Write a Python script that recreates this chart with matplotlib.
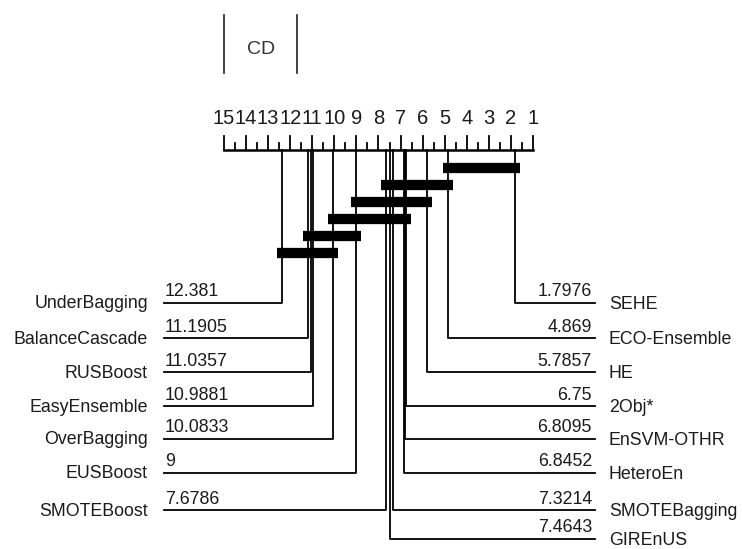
import matplotlib.pyplot as plt
import numpy as np

plt.rcParams['font.family'] = ['Liberation Sans', 'DejaVu Sans']

# average ranks (lower is better)
left_names = ["UnderBagging", "BalanceCascade", "RUSBoost", "EasyEnsemble",
              "OverBagging", "EUSBoost", "SMOTEBoost"]
left_ranks = [12.381, 11.1905, 11.0357, 10.9881, 10.0833, 9.0, 7.6786]
right_names = ["SEHE", "ECO-Ensemble", "HE", "2Obj*", "EnSVM-OTHR",
               "HeteroEn", "SMOTEBagging", "GIREnUS"]
right_ranks = [1.7976, 4.869, 5.7857, 6.75, 6.8095, 6.8452, 7.3214, 7.4643]
# groups of methods not significantly different (lo rank, hi rank)
cliques = [(1.7976, 4.869), (4.869, 7.6786), (5.7857, 9.0),
           (6.75, 10.0833), (9.0, 11.1905), (10.0833, 12.381)]
cd = 3.32
n_methods = 15

# layout: x axis in rank units, y axis in pixels from top
STEP = 22.07          # pixels per rank
X0 = 224              # pixel of the rank 15 end


def rk(p):
    return n_methods - (p - X0) / STEP


fig = plt.figure(figsize=(7.42, 5.49), dpi=100)
ax = fig.add_axes([0, 0, 1, 1])
ax.set_xlim(rk(0), rk(742))
ax.set_ylim(549, 0)
ax.axis('off')

lw = 1.3
txt = '#1a1a1a'
axis_y = 150
ax.plot([n_methods, 1], [axis_y, axis_y], color='black', lw=1.8,
        solid_capstyle='projecting')
for t in np.arange(1, n_methods + 0.01, 0.5):
    top = axis_y - 14 if t == int(t) else axis_y - 7
    ax.plot([t, t], [axis_y, top], color='black', lw=lw)
    if t == int(t):
        ax.text(t, axis_y - 32, str(int(t)), ha='center', va='center',
                fontsize=14.5, color=txt)

# CD marker
ax.plot([n_methods, n_methods], [15, 73], color='#333333', lw=lw)
ax.plot([n_methods - cd, n_methods - cd], [15, 73], color='#333333', lw=lw)
ax.text(n_methods - cd / 2, 50, "CD", ha='center', va='center',
        fontsize=14, color='#333333')

# clique bars
for i, (lo, hi) in enumerate(cliques):
    y = 168 + 17 * i
    ax.plot([hi + 5 / STEP, lo - 5 / STEP], [y, y], color='black', lw=7.4,
            solid_capstyle='butt')

row_y = [303, 338, 372, 406, 439, 473, 510, 539]


def fmt(v):
    return f"{v:.4f}".rstrip('0').rstrip('.')


for i, (name, r) in enumerate(zip(left_names, left_ranks)):
    y = row_y[i]
    ax.plot([r, r, rk(164)], [axis_y, y, y], color='black', lw=lw)
    ax.text(rk(165), y - 2.5, fmt(r), ha='left', va='bottom',
            fontsize=12.8, color=txt)
    ax.text(rk(148), y + 1, name, ha='right', va='center',
            fontsize=12.8, color=txt)

for i, (name, r) in enumerate(zip(right_names, right_ranks)):
    y = row_y[i]
    ax.plot([r, r, rk(595)], [axis_y, y, y], color='black', lw=lw)
    ax.text(rk(592), y - 2.5, fmt(r), ha='right', va='bottom',
            fontsize=12.8, color=txt)
    ax.text(rk(609), y + 1.5, name, ha='left', va='center',
            fontsize=12.8, color=txt)

fig.savefig("out.png", dpi=100)
